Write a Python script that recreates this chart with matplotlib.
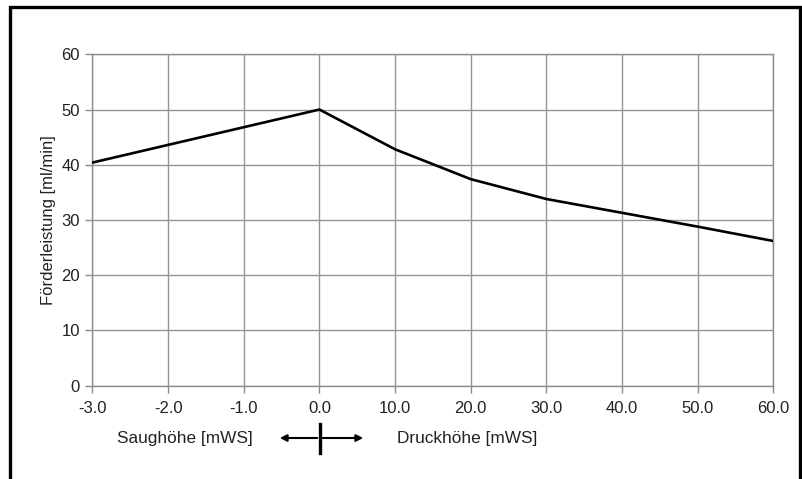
import matplotlib
matplotlib.use("Agg")
import matplotlib.pyplot as plt
from matplotlib.lines import Line2D

plt.rcParams['font.family'] = ['Liberation Sans', 'DejaVu Sans']

x_labels = ["-3.0", "-2.0", "-1.0", "0.0", "10.0", "20.0", "30.0", "40.0", "50.0", "60.0"]
flow = [40.4, 43.6, 46.8, 50.0, 42.8, 37.4, 33.8, 31.3, 28.8, 26.2]
y_ticks = [0, 10, 20, 30, 40, 50, 60]

W, H = 803, 479
fig = plt.figure(figsize=(W / 100, H / 100), dpi=100)
ax = fig.add_axes([92.5 / W, 1 - 385.7 / H, (773.3 - 92.5) / W, (385.7 - 54.3) / H])

pos = list(range(len(x_labels)))
ax.plot(pos, flow, color='black', lw=1.9, solid_joinstyle='round', zorder=3)

ax.set_xlim(0, len(x_labels) - 1)
ax.set_ylim(0, 60)
ax.set_xticks(pos)
ax.set_xticklabels(x_labels)
ax.set_yticks(y_ticks)
ax.grid(True, color='#959595', lw=1.0)
for s in ax.spines.values():
    s.set_color('#8c8c8c')
    s.set_linewidth(1.0)
ax.tick_params(axis='both', colors='#8c8c8c', labelcolor='#222222', labelsize=12,
               length=5, width=1.0)
ax.tick_params(axis='x', pad=6)
ax.tick_params(axis='y', pad=4)
ax.set_ylabel("Förderleistung [ml/min]", fontsize=12, color='#222222', labelpad=4)

# bottom annotation
fig.text(253 / W, 1 - 438 / H, "Saughöhe [mWS]", ha='right', va='center',
         fontsize=12.4, color='#222222')
fig.text(397 / W, 1 - 438 / H, "Druckhöhe [mWS]", ha='left', va='center',
         fontsize=12.4, color='#222222')
ax.annotate('', xy=(277 / W, 1 - 438 / H), xytext=(320 / W, 1 - 438 / H),
            xycoords='figure fraction',
            arrowprops=dict(arrowstyle='-|>', color='black', lw=1.5, mutation_scale=10))
ax.annotate('', xy=(366 / W, 1 - 438 / H), xytext=(320 / W, 1 - 438 / H),
            xycoords='figure fraction',
            arrowprops=dict(arrowstyle='-|>', color='black', lw=1.5, mutation_scale=10))
fig.add_artist(Line2D([320 / W, 320 / W], [1 - 424 / H, 1 - 453 / H], color='black', lw=2.4))

# outer border (left, top, right)
fig.add_artist(Line2D([10 / W, 10 / W, 800 / W, 800 / W],
                      [-0.01, 1 - 6.5 / H, 1 - 6.5 / H, -0.01],
                      color='black', lw=2.4, solid_joinstyle='miter'))

fig.savefig("out.png", dpi=100)
